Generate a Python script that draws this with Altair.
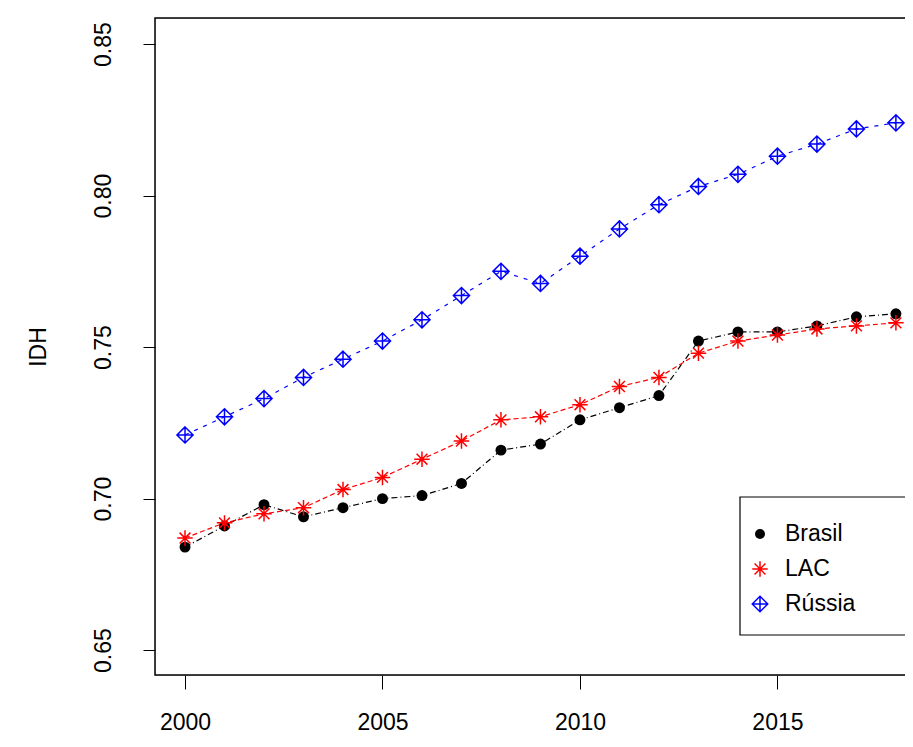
import pandas as pd
import altair as alt

anos = list(range(2000, 2019))
brasil = [0.684, 0.691, 0.698, 0.694, 0.697, 0.700, 0.701, 0.705, 0.716, 0.718,
          0.726, 0.730, 0.734, 0.752, 0.755, 0.755, 0.757, 0.760, 0.761]
lac = [0.687, 0.692, 0.695, 0.697, 0.703, 0.707, 0.713, 0.719, 0.726, 0.727,
       0.731, 0.737, 0.740, 0.748, 0.752, 0.754, 0.756, 0.757, 0.758]
russia = [0.721, 0.727, 0.733, 0.740, 0.746, 0.752, 0.759, 0.767, 0.775, 0.771,
          0.780, 0.789, 0.797, 0.803, 0.807, 0.813, 0.817, 0.822, 0.824]

series = ["Brasil", "LAC", "Rússia"]
cores = ["black", "red", "blue"]
dashes = [[6, 3, 1, 3], [5, 3], [4, 6]]

STAR = "M-1,0L1,0M0,-1L0,1M-0.7,-0.7L0.7,0.7M-0.7,0.7L0.7,-0.7"
DIAMOND_PLUS = "M0,-1L1,0L0,1L-1,0ZM-1,0L1,0M0,-1L0,1"

font = "Liberation Sans"
x = alt.X("ano:Q", scale=alt.Scale(domain=[1999.24, 2018.23], nice=False, zero=False),
          axis=alt.Axis(values=[2000, 2005, 2010, 2015], title=None, format="d",
                        labelFontSize=23, labelPadding=22, tickSize=14, grid=False,
                        domain=False, labelColor="black", tickColor="black"))
y = alt.Y("v:Q", scale=alt.Scale(domain=[0.6418, 0.8586], nice=False, zero=False),
          axis=alt.Axis(values=[0.65, 0.70, 0.75, 0.80, 0.85], format=".2f", title="IDH",
                        titleFontSize=23, titleFontWeight="normal", titlePadding=42,
                        labelFontSize=23, labelAngle=270, labelAlign="center",
                        labelBaseline="bottom", labelPadding=28, tickSize=12,
                        grid=False, domain=False, labelColor="black", tickColor="black"))

leg = pd.DataFrame({"nome": series, "i": [0, 1, 2]})
# plot frame
layers = [alt.Chart(leg.head(1)).mark_rect(fill=None, stroke="black", strokeWidth=1.5).encode(
    x=alt.value(0), x2=alt.value(760), y=alt.value(0), y2=alt.value(657))]
for nome, vals, cor, dash in zip(series, [brasil, lac, russia], cores, dashes):
    df = pd.DataFrame({"ano": anos, "v": vals})
    base = alt.Chart(df).encode(x=x, y=y)
    layers.append(base.mark_line(color=cor, strokeDash=dash, strokeWidth=1.2))
    if nome == "Brasil":
        layers.append(base.mark_circle(color=cor, size=120, opacity=1))
    elif nome == "LAC":
        layers.append(base.mark_point(shape=STAR, color=cor, size=240, strokeWidth=1.5, filled=False, opacity=1))
    else:
        layers.append(base.mark_point(shape=DIAMOND_PLUS, color=cor, size=260, strokeWidth=1.5, filled=False, opacity=1))

# legend box
box = alt.Chart(leg.head(1)).mark_rect(fill="white", stroke="black", strokeWidth=1.2).encode(
    x=alt.value(585), x2=alt.value(765), y=alt.value(479), y2=alt.value(617))
layers.append(box)
ly = [516, 551, 586]
shapes = ["circle", STAR, DIAMOND_PLUS]
for i, (nome, cor, shp) in enumerate(zip(series, cores, shapes)):
    d = leg.iloc[[i]]
    layers.append(alt.Chart(d).mark_point(shape=shp, color=cor, size=240 if i else 100,
                                          filled=(i == 0), strokeWidth=1.5, opacity=1)
                  .encode(x=alt.value(605), y=alt.value(ly[i])))
    layers.append(alt.Chart(d).mark_text(align="left", baseline="middle", fontSize=23,
                                         font=font, color="black")
                  .encode(x=alt.value(630), y=alt.value(ly[i]), text="nome:N"))

chart = alt.layer(*layers).properties(
    width=750, height=657,
    autosize=alt.AutoSizeParams(type="none"),
    padding={"left": 147, "top": 10, "right": 0, "bottom": 70},
).configure_view(stroke=None).configure_axis(
    labelFont=font, titleFont=font, titleColor="black").configure(background="white")

chart.save("out.html", embed_options={"renderer": "svg", "actions": False})
